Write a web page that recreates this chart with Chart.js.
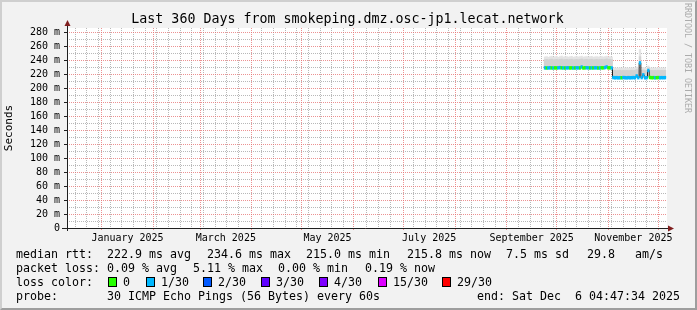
<!DOCTYPE html>
<html>
<head>
<meta charset="utf-8">
<script src="https://cdn.jsdelivr.net/npm/chart.js@4.4.1/dist/chart.umd.min.js"></script>
<style>
  html, body { margin: 0; padding: 0; background: #f2f2f2; }
  #wrap { position: relative; width: 697px; height: 310px; background: #f2f2f2; overflow: hidden;
          font-family: 'DejaVu Sans Mono', monospace; color: #000; }
  #chart { position: absolute; left: 0; top: 0; }
  .frame { position: absolute; left: 0; top: 0; width: 697px; height: 310px; box-sizing: border-box;
           border: 2px solid; border-color: #cfcfcf #9e9e9e #9e9e9e #cfcfcf; pointer-events: none; }
  .title { position: absolute; left: 0; top: 11px; width: 695px; text-align: center; font-size: 13.3px;
           line-height: 16px; white-space: pre; }
  .leg { position: absolute; font-size: 11.63px; line-height: 14px; white-space: pre; }
  .box { position: absolute; width: 7px; height: 8px; border: 1px solid #000; }
  .mark { position: absolute; left: 683px; top: 3px; writing-mode: vertical-rl; font-size: 8.3px;
          color: #ababab; white-space: pre; }
</style>
</head>
<body>
<div id="wrap">
  <canvas id="chart" width="697" height="310"></canvas>
  <div class="title">Last 360 Days from smokeping.dmz.osc-jp1.lecat.network</div>
  <div class="mark">RRDTOOL / TOBI OETIKER</div>

  <div class="leg" style="left:16px;top:247px">median rtt:</div>
  <div class="leg" style="left:107px;top:247px">222.9 ms avg</div>
  <div class="leg" style="left:207px;top:247px">234.6 ms max</div>
  <div class="leg" style="left:306px;top:247px">215.0 ms min</div>
  <div class="leg" style="left:407px;top:247px">215.8 ms now</div>
  <div class="leg" style="left:506px;top:247px">7.5 ms sd</div>
  <div class="leg" style="left:587px;top:247px">29.8</div>
  <div class="leg" style="left:635px;top:247px">am/s</div>

  <div class="leg" style="left:16px;top:261px">packet loss:</div>
  <div class="leg" style="left:107px;top:261px">0.09 % avg</div>
  <div class="leg" style="left:193px;top:261px">5.11 % max</div>
  <div class="leg" style="left:278px;top:261px">0.00 % min</div>
  <div class="leg" style="left:365px;top:261px">0.19 % now</div>

  <div class="leg" style="left:16px;top:275px">loss color:</div>
  <div id="lossLegend"></div>

  <div class="leg" style="left:16px;top:289px">probe:</div>
  <div class="leg" style="left:107px;top:289px">30 ICMP Echo Pings (56 Bytes) every 60s</div>
  <div class="leg" style="right:17px;top:289px">end: Sat Dec  6 04:47:34 2025</div>

  <div class="frame"></div>
</div>
<script>
// --- time frame of the graph (360 days ending at the "end:" stamp) ---
const START = Date.UTC(2024, 11, 11, 4, 47, 34);
const DAY = 86400000;
const SPAN = 360;

function dayOf(s) {
    return (Date.parse(s + 'T00:00:00Z') - START) / DAY;
}

// month boundaries -> major (red) grid
const monthStarts = ['2025-01-01', '2025-02-01', '2025-03-01', '2025-04-01', '2025-05-01', '2025-06-01',
                     '2025-07-01', '2025-08-01', '2025-09-01', '2025-10-01', '2025-11-01', '2025-12-01'];
// labelled months (label sits in the middle of the month)
const labelMonths = [['2025-01-01', '2025-02-01'], ['2025-03-01', '2025-04-01'], ['2025-05-01', '2025-06-01'],
                     ['2025-07-01', '2025-08-01'], ['2025-09-01', '2025-10-01'], ['2025-11-01', '2025-12-01']];
const labelTexts = ['January 2025', 'March 2025', 'May 2025', 'July 2025', 'September 2025', 'November 2025'];

// y axis: labelled every 20 ms, minor grid every 10 ms
const yMajor = [0, 20, 40, 60, 80, 100, 120, 140, 160, 180, 200, 220, 240, 260, 280];
const yMinor = [10, 30, 50, 70, 90, 110, 130, 150, 170, 190, 210, 230, 250, 270];

// --- measured data, one value per day starting at firstDate (ms) ---
const firstDate = '2025-09-24';

const median = [
    229.8, 229.6, 229.7, 229.9, 229.7, 229.6, 229.8, 229.7, 229.9, 230.1,
    229.8, 229.7, 229.6, 229.8, 229.9, 229.7, 229.8, 229.6, 229.7, 229.9,
    229.8, 229.7, 231.0, 229.6, 229.9, 230.0, 229.8, 229.7, 229.8, 229.7,
    229.9, 229.8, 229.6, 229.7, 229.9, 229.8, 230.2, 231.1, 229.8, 229.9,
    229.7,
    215.9, 215.6, 215.8, 215.5, 215.7, 215.6, 215.9, 215.7, 215.5,
    215.8, 215.6, 215.7, 215.9, 215.6, 218.2, 215.7, 237.0, 215.8, 219.8,
    215.6, 215.7, 226.0, 216.0, 215.7, 215.8, 215.6, 215.7, 215.9, 215.6,
    215.8, 215.7, 215.8
];

// upper edge of the dense smoke
const smokeMid = [
    241.5, 242.0, 241.2, 241.8, 242.3, 241.4, 241.6, 242.1, 241.3, 241.9,
    242.4, 241.5, 241.7, 242.0, 241.4, 241.8, 242.2, 241.3, 241.6, 242.0,
    241.5, 241.9, 242.6, 241.4, 241.7, 242.1, 241.5, 241.8, 242.2, 241.3,
    241.6, 242.0, 241.5, 241.8, 242.1, 241.5, 241.9, 242.6, 241.7, 241.8,
    241.4,
    226.0, 226.3, 225.9, 226.1, 226.4, 225.8, 226.2, 226.0, 226.3,
    225.9, 226.1, 226.4, 226.0, 226.2, 227.5, 226.1, 246.0, 226.3, 227.0,
    226.0, 226.2, 229.5, 226.1, 226.3, 225.9, 226.2, 226.0, 226.4, 226.1,
    226.3, 226.0, 226.2
];

// upper edge of the light smoke (max ping)
const smokeTop = [
    245.5, 246.0, 245.0, 245.8, 246.5, 245.2, 245.6, 246.2, 245.0, 245.9,
    246.8, 245.4, 245.7, 246.0, 245.3, 245.8, 246.4, 245.1, 245.6, 246.0,
    245.5, 245.9, 246.6, 245.3, 245.7, 246.1, 245.4, 245.8, 246.3, 245.2,
    245.6, 246.0, 245.5, 245.8, 246.2, 245.4, 245.9, 246.5, 245.6, 245.8,
    245.3,
    229.5, 229.8, 229.4, 229.6, 229.9, 229.3, 229.7, 229.5, 229.8,
    229.4, 229.6, 229.9, 229.5, 229.7, 231.0, 229.6, 256.0, 229.8, 230.5,
    229.5, 229.7, 232.5, 229.6, 229.8, 229.4, 229.7, 229.5, 229.9, 229.6,
    229.8, 229.5, 229.7
];

// loss class per day (index into lossColors)
const lossClass = [
    1, 0, 1, 1, 0, 1, 0, 0, 1, 1,
    0, 1, 0, 1, 1, 0, 0, 1, 0, 1,
    1, 0, 1, 0, 0, 1, 1, 0, 1, 0,
    1, 1, 0, 1, 0, 0, 1, 1, 0, 0,
    1,
    1, 1, 1, 1, 1, 0, 1, 1, 1,
    1, 1, 1, 1, 1, 1, 1, 1, 1, 1,
    1, 1, 1, 0, 0, 0, 1, 0, 0, 1,
    1, 1, 1
];

const lossLabels = ['0', '1/30', '2/30', '3/30', '4/30', '15/30', '29/30'];
const lossColors = ['#26ff00', '#00b8ff', '#0059ff', '#5e00ff', '#7e00ff', '#dd00ff', '#ff0000'];

// --- layout / styles ---
const FONT = 'DejaVu Sans Mono';
const GRID = 'rgba(160,160,160,0.75)';
const MGRID = 'rgba(230,110,110,0.75)';
const AXIS = '#1f1f1f';
const ARROW = '#801f1f';
const NONE = 'rgba(0,0,0,0)';
const HALF_BAND = 2;     // half height of the coloured median band, ms
const lossBoxX = [108, 146, 203, 261, 319, 378, 442];

// loss colour legend (html)
const lossLegend = document.getElementById('lossLegend');
lossLabels.forEach((lab, i) => {
    const b = document.createElement('div');
    b.className = 'box';
    b.style.left = lossBoxX[i] + 'px';
    b.style.top = '277px';
    b.style.background = lossColors[i];
    lossLegend.appendChild(b);
    const t = document.createElement('div');
    t.className = 'leg';
    t.style.left = (lossBoxX[i] + 15) + 'px';
    t.style.top = '275px';
    t.textContent = lab;
    lossLegend.appendChild(t);
});

// --- build chart data ---
const x0 = dayOf(firstDate);
const xs = median.map((v, i) => x0 + i);

const majorDays = monthStarts.map(dayOf);
const minorDays = [];
for (let d = dayOf('2024-12-16'); d < SPAN; d += 7) {
    if (!majorDays.some(m => Math.abs(m - d) < 2)) minorDays.push(d);
}
const gridDays = majorDays.concat(minorDays).filter(d => d > 0 && d < SPAN).sort((a, b) => a - b);
const labelDays = labelMonths.map(p => (dayOf(p[0]) + dayOf(p[1])) / 2);

function isMajorDay(c) {
    return !!c.tick && majorDays.some(m => Math.abs(m - c.tick.value) < 0.01);
}
function isMajorY(c) {
    return !!c.tick && yMajor.includes(c.tick.value);
}

const plotBits = {
    id: 'plotBits',
    beforeDraw(chart) {
        const {ctx, chartArea: a} = chart;
        ctx.save();
        ctx.fillStyle = '#ffffff';
        ctx.fillRect(a.left, a.top, a.right - a.left, a.bottom - a.top);
        ctx.restore();
    },
    afterDraw(chart) {
        const {ctx, chartArea: a} = chart;
        ctx.save();
        ctx.strokeStyle = AXIS;
        ctx.lineWidth = 1;
        ctx.beginPath();
        ctx.moveTo(a.left - 5, a.bottom + 0.5);
        ctx.lineTo(a.right + 2, a.bottom + 0.5);
        ctx.moveTo(a.left + 0.5, a.bottom + 3);
        ctx.lineTo(a.left + 0.5, a.top - 3);
        ctx.stroke();
        ctx.fillStyle = ARROW;
        ctx.beginPath();
        ctx.moveTo(a.right + 1, a.bottom - 2.5);
        ctx.lineTo(a.right + 7, a.bottom + 0.5);
        ctx.lineTo(a.right + 1, a.bottom + 3.5);
        ctx.closePath();
        ctx.fill();
        ctx.beginPath();
        ctx.moveTo(a.left - 2.5, a.top - 2);
        ctx.lineTo(a.left + 0.5, a.top - 8);
        ctx.lineTo(a.left + 3.5, a.top - 2);
        ctx.closePath();
        ctx.fill();
        ctx.restore();
    }
};

const barBase = {
    type: 'bar',
    xAxisID: 'x',
    yAxisID: 'y',
    grouped: false,
    barPercentage: 1,
    categoryPercentage: 1,
    borderWidth: 0
};

new Chart(document.getElementById('chart'), {
    type: 'bar',
    data: {
        datasets: [
            Object.assign({}, barBase, {
                label: 'smoke',
                data: xs.map((x, i) => ({x: x, y: [median[i], smokeTop[i]]})),
                backgroundColor: '#e4e4e4',
                order: 5
            }),
            Object.assign({}, barBase, {
                label: 'smoke dense',
                data: xs.map((x, i) => ({x: x, y: [median[i], smokeMid[i]]})),
                backgroundColor: '#d2d2d2',
                order: 4
            }),
            {
                type: 'line',
                label: 'median',
                xAxisID: 'x',
                yAxisID: 'y',
                data: xs.map((x, i) => ({x: x, y: median[i]})),
                stepped: 'middle',
                borderColor: '#202020',
                borderWidth: 1,
                pointRadius: 0,
                fill: false,
                order: 3
            },
            Object.assign({}, barBase, {
                label: 'median rtt',
                data: xs.map((x, i) => ({x: x, y: [median[i] - HALF_BAND, median[i] + HALF_BAND]})),
                backgroundColor: lossClass.map(c => lossColors[c]),
                order: 2
            })
        ]
    },
    options: {
        responsive: false,
        animation: false,
        events: [],
        layout: { padding: { left: 0, right: 30, top: 28, bottom: 0 } },
        plugins: {
            legend: { display: false },
            tooltip: { enabled: false },
            title: { display: false }
        },
        scales: {
            x: {
                type: 'linear',
                min: 0,
                max: SPAN,
                offset: false,
                position: 'bottom',
                weight: 0,
                afterBuildTicks: s => { s.ticks = gridDays.map(v => ({value: v})); },
                afterFit: s => { s.height = 0; },
                ticks: { display: false },
                grid: {
                    offset: false,
                    color: c => isMajorDay(c) ? MGRID : GRID,
                    lineWidth: 1,
                    drawTicks: true,
                    tickLength: 2,
                    tickColor: c => isMajorDay(c) ? MGRID : NONE
                },
                border: { display: false, dash: [1, 1] }
            },
            x2: {
                type: 'linear',
                axis: 'x',
                min: 0,
                max: SPAN,
                offset: false,
                position: 'bottom',
                weight: 1,
                afterBuildTicks: s => { s.ticks = labelDays.map(v => ({value: v})); },
                afterFit: s => { s.height = 82; },
                ticks: {
                    autoSkip: false,
                    maxRotation: 0,
                    padding: 4,
                    color: '#000',
                    font: { family: FONT, size: 10 },
                    callback: (v, i) => labelTexts[i]
                },
                grid: { display: false, drawTicks: false, offset: false },
                border: { display: false }
            },
            y: {
                type: 'linear',
                min: 0,
                max: 287,
                afterBuildTicks: s => { s.ticks = yMajor.concat(yMinor).sort((a, b) => a - b).map(v => ({value: v})); },
                afterFit: s => { s.width = 67; },
                ticks: {
                    autoSkip: false,
                    padding: 4,
                    color: '#000',
                    font: { family: FONT, size: 10 },
                    callback: v => yMajor.includes(v) ? (v === 0 ? '0' : v + ' m') : ''
                },
                grid: {
                    color: c => isMajorY(c) ? MGRID : GRID,
                    lineWidth: 1,
                    drawTicks: true,
                    tickLength: 3,
                    tickColor: c => isMajorY(c) ? AXIS : NONE
                },
                border: { display: false, dash: [1, 1] },
                title: {
                    display: true,
                    text: 'Seconds',
                    color: '#000',
                    font: { family: FONT, size: 11 },
                    padding: { top: 3, bottom: 0 }
                }
            }
        }
    },
    plugins: [plotBits]
});
</script>
</body>
</html>
